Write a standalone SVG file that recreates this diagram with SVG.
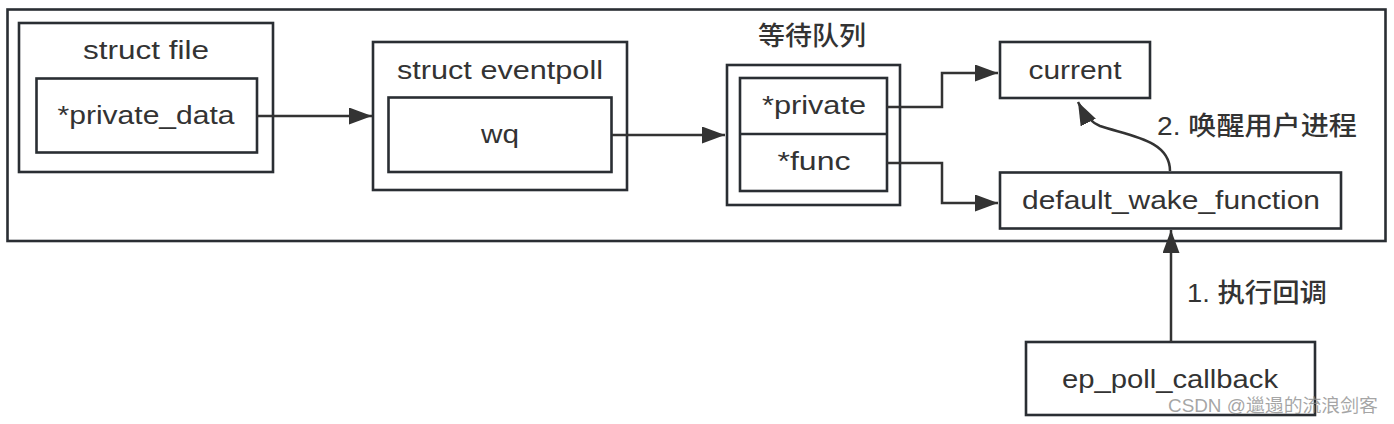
<svg xmlns="http://www.w3.org/2000/svg" width="1394" height="424" viewBox="0 0 1394 424">
  <defs>
    <marker id="arrow" markerUnits="userSpaceOnUse" markerWidth="26" markerHeight="20" refX="23" refY="8.5" orient="auto">
      <path d="M0,0 L23,8.5 L0,17 z" fill="#333"/>
    </marker>
    <style>
      .box { fill: #fff; stroke: #2a2e33; stroke-width: 2.6; }
      .outer { fill: none; stroke: #2a2e33; stroke-width: 2.6; }
      .t { font-family: "Liberation Sans", "Noto Sans CJK SC", sans-serif; font-size: 26px; fill: #333; text-anchor: middle; }
      .lbl { font-family: "Liberation Sans", "Noto Sans CJK SC", sans-serif; font-size: 26px; fill: #333; }
      .cjk { font-weight: 500; }
      .conn { fill: none; stroke: #333; stroke-width: 2.5; marker-end: url(#arrow); }
      .wm { font-family: "Liberation Sans", "Noto Sans CJK SC", sans-serif; font-size: 18px; fill: #888; fill-opacity: 0.75; }
    </style>
  </defs>
  <rect width="1394" height="424" fill="#fff"/>

  <g id="kernel-area">
    <rect class="outer" x="7.5" y="9.5" width="1378" height="231.5"/>
  </g>

  <g id="struct-file">
    <rect class="box" x="19" y="23" width="254" height="149"/>
    <text class="t" x="146" y="59" textLength="126" lengthAdjust="spacingAndGlyphs">struct file</text>
  </g>
  <g id="private-data">
    <rect class="box" x="36.5" y="78.5" width="220.5" height="74"/>
    <text class="t" x="146" y="124" textLength="177" lengthAdjust="spacingAndGlyphs">*private_data</text>
  </g>

  <g id="struct-eventpoll">
    <rect class="box" x="373" y="42" width="254" height="148"/>
    <text class="t" x="500" y="79" textLength="206" lengthAdjust="spacingAndGlyphs">struct eventpoll</text>
  </g>
  <g id="wq">
    <rect class="box" x="388.5" y="97.5" width="223" height="74.5"/>
    <text class="t" x="500" y="143" textLength="38" lengthAdjust="spacingAndGlyphs">wq</text>
  </g>

  <g id="wait-queue">
    <text class="t cjk" x="812" y="45" textLength="108" lengthAdjust="spacingAndGlyphs">等待队列</text>
    <rect class="box" x="727" y="65" width="173" height="140"/>
    <rect class="box" x="740" y="78" width="147" height="113"/>
    <line x1="740" y1="134" x2="887" y2="134" stroke="#2a2e33" stroke-width="2.6"/>
  </g>
  <g id="private">
    <text class="t" x="814" y="114" textLength="104" lengthAdjust="spacingAndGlyphs">*private</text>
  </g>
  <g id="func">
    <text class="t" x="814" y="170" textLength="73" lengthAdjust="spacingAndGlyphs">*func</text>
  </g>

  <g id="current">
    <rect class="box" x="1000" y="42" width="150" height="56"/>
    <text class="t" x="1075" y="79" textLength="93" lengthAdjust="spacingAndGlyphs">current</text>
  </g>

  <g id="default-wake-function">
    <rect class="box" x="1000" y="172.5" width="341" height="56"/>
    <text class="t" x="1171" y="209" textLength="298" lengthAdjust="spacingAndGlyphs">default_wake_function</text>
  </g>

  <g id="ep-poll-callback">
    <rect class="box" x="1026" y="342" width="289" height="73"/>
    <text class="t" x="1170" y="388" textLength="216" lengthAdjust="spacingAndGlyphs">ep_poll_callback</text>
  </g>

  <g id="connectors">
    <line class="conn" x1="257" y1="116" x2="372" y2="116"/>
    <line class="conn" x1="612" y1="135" x2="725" y2="135"/>
    <polyline class="conn" points="887,107 942,107 942,73 998,73"/>
    <polyline class="conn" points="887,163 942,163 942,203 998,203"/>
    <path class="conn" d="M1170,171 C1170,140 1130,136 1100,126 C1090,122 1084,114 1078,102"/>
    <line class="conn" x1="1171" y1="342" x2="1171" y2="230"/>
    <text class="lbl cjk" x="1157" y="135" textLength="200" lengthAdjust="spacingAndGlyphs">2. 唤醒用户进程</text>
    <text class="lbl cjk" x="1187" y="302" textLength="140" lengthAdjust="spacingAndGlyphs">1. 执行回调</text>
  </g>

  <text class="wm" x="1168" y="412" textLength="210" lengthAdjust="spacingAndGlyphs">CSDN @邋遢的流浪剑客</text>
</svg>
